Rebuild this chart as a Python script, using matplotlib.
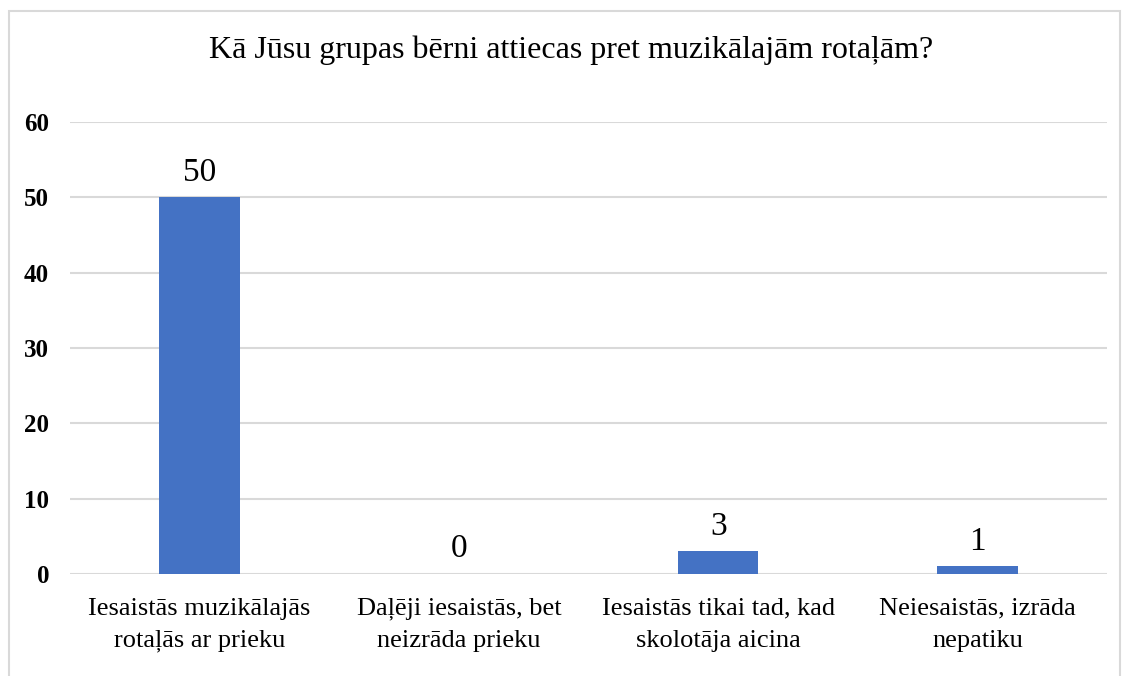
import matplotlib.pyplot as plt
from matplotlib.patches import Rectangle

# Dati
kategorijas = [
    "Iesaistās muzikālajās\nrotaļās ar prieku",
    "Daļēji iesaistās, bet\nneizrāda prieku",
    "Iesaistās tikai tad, kad\nskolotāja aicina",
    "Neiesaistās, izrāda\nnepatiku",
]
vertibas = [50, 0, 3, 1]
y_ticks = [0, 10, 20, 30, 40, 50, 60]
virsraksts = "Kā Jūsu grupas bērni attiecas pret muzikālajām rotaļām?"

plt.rcParams['font.family'] = ['Liberation Serif', 'DejaVu Serif']

fig = plt.figure(figsize=(11.24, 6.76), dpi=100)
ax = fig.add_axes([0.0623, 0.151, 0.9227, 0.6685])

x = range(len(kategorijas))
ax.bar(x, vertibas, width=0.31, color='#4472C4', zorder=3)

for xi, v in zip(x, vertibas):
    ax.annotate(str(v), (xi, v), xytext=(0, 7), textcoords='offset points',
                ha='center', va='bottom', fontsize=24, color='#000000')

ax.set_xlim(-0.5, len(kategorijas) - 0.5)
ax.set_ylim(0, 60)
ax.set_yticks(y_ticks)
ax.set_yticklabels([str(t) for t in y_ticks], fontsize=18, fontweight='bold')
ax.set_xticks(list(x))
ax.set_xticklabels(kategorijas, fontsize=19, linespacing=1.6)
ax.tick_params(axis='both', length=0)
ax.tick_params(axis='y', pad=15)
ax.tick_params(axis='x', pad=17)
ax.grid(axis='y', color='#D9D9D9', linewidth=1.5, zorder=0)
for s in ax.spines.values():
    s.set_visible(False)

fig.text(0.508, 0.926, virsraksts, ha='center', va='center', fontsize=23)

# rāmis ap diagrammu
fig.patches.append(Rectangle((9 / 1124, -0.05), 1111 / 1124, 1.05 - 11 / 676,
                             transform=fig.transFigure, fill=False,
                             edgecolor='#D9D9D9', linewidth=1.5))

fig.savefig('out.png', dpi=100)
